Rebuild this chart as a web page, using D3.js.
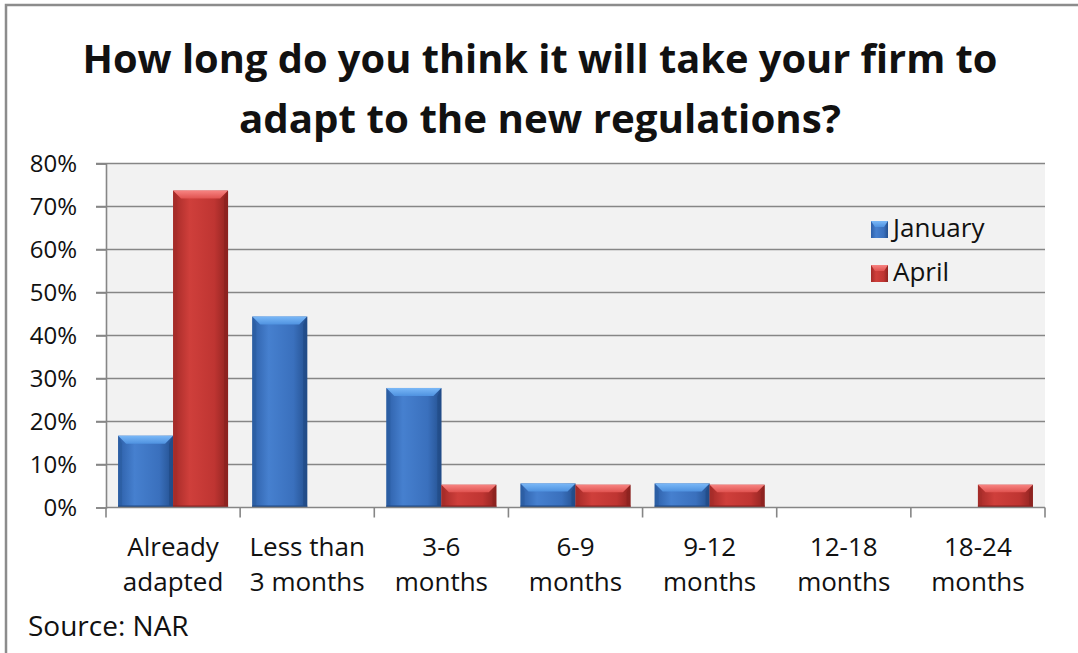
<!DOCTYPE html>
<html>
<head>
<meta charset="utf-8">
<script src="https://cdn.jsdelivr.net/npm/d3@7"></script>
<style>
  html, body { margin: 0; padding: 0; background: #fff; }
  svg { display: block; }
  text { font-family: "Open Sans", "Noto Sans", sans-serif; fill: #111; }
</style>
</head>
<body>
<svg id="chart" width="1078" height="653"></svg>
<script>
// Survey answers, share of respondents per period
const categories = [
  ["Already", "adapted"],
  ["Less than", "3 months"],
  ["3-6", "months"],
  ["6-9", "months"],
  ["9-12", "months"],
  ["12-18", "months"],
  ["18-24", "months"]
];
const seriesNames = ["January", "April"];
const january = [16.7, 44.4, 27.8, 5.6, 5.6, 0, 0];
const april   = [73.7, 0, 5.3, 5.3, 5.3, 0, 5.3];
const yTicks = [0, 10, 20, 30, 40, 50, 60, 70, 80];
const titleLines = ["How long do you think it will take your firm to", "adapt to the new regulations?"];
const sourceText = "Source: NAR";

const svg = d3.select("#chart");
const W = 1078, H = 653;
const plot = { left: 106, right: 1045, top: 163.5, bottom: 507.5 };

// Outer frame
svg.append("path")
  .attr("d", `M6,${H} L6,5 L${W},5`)
  .attr("fill", "none").attr("stroke", "#8c8c8c").attr("stroke-width", 2.5);

// Title
svg.selectAll("text.title").data(titleLines).join("text")
  .attr("class", "title")
  .attr("x", 540).attr("y", (d, i) => 73 + i * 60)
  .attr("text-anchor", "middle")
  .attr("font-weight", "bold").attr("font-size", 40)
  .attr("textLength", (d, i) => i === 0 ? 915 : 602)
  .attr("lengthAdjust", "spacingAndGlyphs")
  .text(d => d);

const x0 = d3.scaleBand().domain(d3.range(categories.length))
  .range([plot.left, plot.right]).paddingInner(0).paddingOuter(0);
const x1 = d3.scaleBand().domain(seriesNames)
  .range([0, x0.bandwidth()]).paddingOuter(0.22).paddingInner(0);
const y = d3.scaleLinear().domain([0, 80]).range([plot.bottom, plot.top]);

// Plot background
svg.append("rect")
  .attr("x", plot.left).attr("y", plot.top)
  .attr("width", plot.right - plot.left).attr("height", plot.bottom - plot.top)
  .attr("fill", "#f2f2f2");

// Gridlines
svg.append("g").selectAll("line").data(yTicks.filter(t => t > 0)).join("line")
  .attr("x1", plot.left - 10).attr("x2", plot.right)
  .attr("y1", d => y(d)).attr("y2", d => y(d))
  .attr("stroke", "#868686").attr("stroke-width", 1.6);

// Y axis
const yAxis = svg.append("g").attr("transform", `translate(${plot.left},0)`)
  .call(d3.axisLeft(y).tickValues(yTicks).tickSize(10).tickPadding(19).tickFormat(d => d + "%"));
yAxis.select(".domain").attr("stroke", "#868686").attr("stroke-width", 1.6);
yAxis.selectAll(".tick line").attr("stroke", "#868686").attr("stroke-width", 1.6);
yAxis.selectAll("text").attr("font-size", 24).attr("fill", "#111")
  .attr("font-family", "'Open Sans', sans-serif");

// Gradients for bevelled bars
const defs = svg.append("defs");
const palettes = {
  January: { body: ["#2d5fa8", "#4680cf", "#3a70bd", "#24508f"], top: ["#7ab8f7", "#4f92e0"], side: "#2a5c9f", bottom: "#214a85" },
  April:   { body: ["#a42a27", "#cf3f3b", "#bf3532", "#8f2320"], top: ["#f78482", "#e0524f"], side: "#a52d2a", bottom: "#8a2220" }
};
Object.entries(palettes).forEach(([k, p]) => {
  const g = defs.append("linearGradient").attr("id", "body-" + k).attr("x1", 0).attr("x2", 1).attr("y1", 0).attr("y2", 0);
  g.append("stop").attr("offset", "0%").attr("stop-color", p.body[0]);
  g.append("stop").attr("offset", "30%").attr("stop-color", p.body[1]);
  g.append("stop").attr("offset", "75%").attr("stop-color", p.body[2]);
  g.append("stop").attr("offset", "100%").attr("stop-color", p.body[3]);
  const t = defs.append("linearGradient").attr("id", "top-" + k).attr("x1", 0).attr("x2", 0).attr("y1", 0).attr("y2", 1);
  t.append("stop").attr("offset", "0%").attr("stop-color", p.top[0]);
  t.append("stop").attr("offset", "100%").attr("stop-color", p.top[1]);
});

// Bars
const rows = [];
categories.forEach((c, i) => {
  rows.push({ i, s: "January", v: january[i] });
  rows.push({ i, s: "April", v: april[i] });
});
const bars = svg.append("g").selectAll("g.bar").data(rows.filter(r => r.v > 0)).join("g").attr("class", "bar");
bars.each(function(d) {
  const g = d3.select(this);
  const xa = x0(d.i) + x1(d.s), xb = xa + x1.bandwidth();
  const ya = y(d.v), yb = y(0);
  const b = Math.min(8, (yb - ya) / 3);
  const p = palettes[d.s];
  g.append("rect").attr("x", xa).attr("y", ya).attr("width", xb - xa).attr("height", yb - ya)
    .attr("fill", `url(#body-${d.s})`);
  g.append("polygon").attr("points", [[xa, ya], [xb, ya], [xb - b, ya + b], [xa + b, ya + b]].join(" "))
    .attr("fill", `url(#top-${d.s})`);
  g.append("polygon").attr("points", [[xa, ya], [xa + b * 0.5, ya + b], [xa + b * 0.5, yb - 2], [xa, yb]].join(" "))
    .attr("fill", p.side).attr("opacity", 0.6);
  g.append("polygon").attr("points", [[xb, ya], [xb - b * 0.5, ya + b], [xb - b * 0.5, yb - 2], [xb, yb]].join(" "))
    .attr("fill", p.bottom).attr("opacity", 0.7);
  g.append("rect").attr("x", xa).attr("y", yb - 2).attr("width", xb - xa).attr("height", 2)
    .attr("fill", p.bottom);
});

// X axis
const xAxis = svg.append("g").attr("transform", `translate(0,${plot.bottom})`);
xAxis.append("line").attr("x1", plot.left).attr("x2", plot.right).attr("y1", 0).attr("y2", 0)
  .attr("stroke", "#868686").attr("stroke-width", 1.6);
xAxis.selectAll("line.tick").data(d3.range(categories.length + 1)).join("line")
  .attr("class", "tick")
  .attr("x1", i => plot.left + i * x0.bandwidth()).attr("x2", i => plot.left + i * x0.bandwidth())
  .attr("y1", 0).attr("y2", 10)
  .attr("stroke", "#868686").attr("stroke-width", 1.6);
const catLabels = xAxis.selectAll("text.cat").data(categories).join("text")
  .attr("class", "cat")
  .attr("text-anchor", "middle")
  .attr("font-size", 26);
catLabels.each(function(lines, i) {
  d3.select(this).selectAll("tspan").data(lines).join("tspan")
    .attr("x", x0(i) + x0.bandwidth() / 2)
    .attr("y", (d, j) => 48 + j * 35)
    .text(d => d);
});

// Legend
const legend = svg.append("g").attr("transform", "translate(871,221)");
seriesNames.forEach((s, i) => {
  const g = legend.append("g").attr("transform", `translate(0,${i * 44})`);
  g.append("rect").attr("width", 17).attr("height", 17).attr("fill", `url(#body-${s})`);
  g.append("polygon").attr("points", "0,0 17,0 13,6 4,6").attr("fill", `url(#top-${s})`);
  g.append("text").attr("x", 22).attr("y", 16).attr("font-size", 26).text(s);
});

// Source note
svg.append("text").attr("x", 28).attr("y", 636).attr("font-size", 28).text(sourceText);
</script>
</body>
</html>
